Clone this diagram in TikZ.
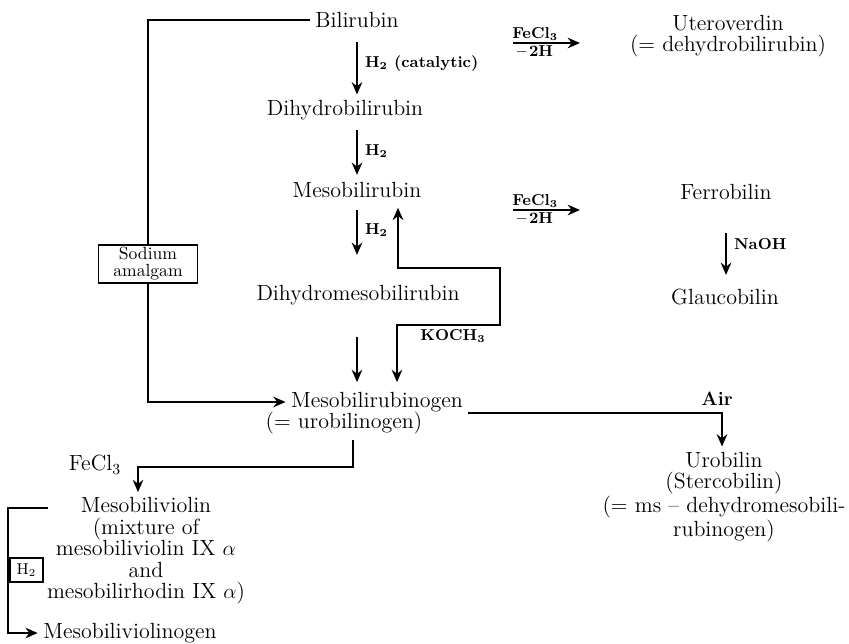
\documentclass[tikz,border=0pt]{standalone}
\usepackage{xcolor}
\usetikzlibrary{arrows.meta}

\begin{document}
\begin{tikzpicture}[x=0.02cm,y=-0.02cm,
  cmpd/.style={font=\fontsize{12.5}{12.2}\selectfont, align=center, inner sep=3pt},
  lbl/.style={font=\fontsize{9}{10}\selectfont\bfseries, inner sep=1pt},
  bar/.style={line width=1.2pt},
  rxn/.style={bar, -{Stealth[length=7pt,width=6pt]}},
  box/.style={draw, line width=1pt, align=center, inner sep=1pt}]

\useasboundingbox (0,0) rectangle (849,644);

% main column
\node[cmpd] (bili) at (357,20) {Bilirubin};
\node[cmpd] (dhb) at (345,110) {Dihydrobilirubin};
\node[cmpd] (mbr) at (357,190) {Mesobilirubin};
\node[cmpd] (dhmb) at (358,295) {Dihydromesobilirubin};
\node[cmpd] (mbg) at (377,402) {Mesobilirubinogen};
\node[cmpd] (mbgalt) at (344,423) {(= urobilinogen)};

% right column
\node[cmpd] (uter) at (728,36) {Uteroverdin\\(= dehydrobilirubin)};
\node[cmpd] (ferro) at (726,192) {Ferrobilin};
\node[cmpd] (glauco) at (725,297) {Glaucobilin};
\node[cmpd] (urob) at (724,497) {Urobilin\\(Stercobilin)\\(= ms -- dehydromesobili-\\rubinogen)};

% lower left
\node[cmpd] (mbv) at (146,551) {Mesobiliviolin\\(mixture of\\mesobiliviolin IX $\alpha$\\and\\mesobilirhodin IX $\alpha$)};
\node[cmpd] (mbvg) at (130,633) {Mesobiliviolinogen};

% reagent boxes
\node[box, minimum width=1.98cm, minimum height=0.76cm,
  font=\fontsize{10}{9.8}\selectfont] (soda) at (148,264) {Sodium\\amalgam};
\node[box, minimum width=0.66cm, minimum height=0.48cm,
  font=\fontsize{9}{10}\selectfont] (hbox) at (26.5,570) {H\textsubscript{2}};

% hydrogenation steps
\draw[rxn, shorten <=5pt] (bili.south) -- (dhb.north -| bili.south)
  node[lbl, midway, right=3pt] {H\textsubscript{2} (catalytic)};
\draw[rxn, shorten <=2.5pt, shorten >=1pt] (dhb.south -| bili.south) -- (mbr.north -| bili.south)
  node[lbl, midway, right=3pt] {H\textsubscript{2}};
\draw[rxn, shorten <=3.7pt, shorten >=14pt] (mbr.south -| bili.south) -- (dhmb.north -| bili.south)
  node[lbl, pos=0.35, right=3pt] {H\textsubscript{2}};
\draw[rxn, shorten <=15pt, shorten >=2.5pt] (dhmb.south -| bili.south) -- (mbg.north -| bili.south);

% KOCH3 loop
\coordinate (k1) at (398,268);
\coordinate (k2) at (500,268);
\coordinate (k3) at (500,325);
\coordinate (k4) at (397,325);
\draw[bar, {Stealth[length=7pt,width=6pt]}-{Stealth[length=7pt,width=6pt]}, shorten <=2.5pt, shorten >=2.5pt]
  (mbr.south -| k1) -- (k1) -- (k2) -- (k3) -- (k4) -- (mbg.north -| k4);
\node[lbl] (koch) at (453,336) {KOCH\textsubscript{3}};

% sodium amalgam
\draw[bar] (bili.west) -| (soda.north);
\draw[rxn] (soda.south) |- (mbg.west);

% FeCl3 oxidations
\coordinate (f1a) at (513,43);
\coordinate (f1b) at (580,43);
\draw[rxn] (f1a) -- node[lbl, pos=0.33, above] {FeCl\textsubscript{3}}
  node[lbl, pos=0.33, below] {--\,2H} (f1b);
\coordinate (f2a) at (513,210);
\coordinate (f2b) at (580,210);
\draw[rxn] (f2a) -- node[lbl, pos=0.33, above] {FeCl\textsubscript{3}}
  node[lbl, pos=0.33, below] {--\,2H} (f2b);

\draw[rxn, shorten <=15.6pt, shorten >=4.8pt] (ferro.south) -- (glauco.north -| ferro.south)
  node[lbl, midway, right=3pt] {NaOH};

% air
\coordinate (a1) at (722,413);
\draw[rxn] (mbg.east |- a1) -- (a1) -- (urob.north -| a1);
\node[lbl, font=\fontsize{11}{12}\selectfont\bfseries] (air) at (717,399) {Air};

% FeCl3 to mesobiliviolin
\coordinate (b1) at (353,467);
\coordinate (b2) at (138,467);
\draw[rxn] (mbgalt.south -| b1) -- (b1) -- (b2) -- (b2 |- mbv.north);
\node[cmpd] (fecl) at (95,465) {FeCl\textsubscript{3}};

% H2 reduction
\coordinate (c1) at (48,508);
\coordinate (c2) at (8,508);
\draw[rxn] (c1) -- (c2) -- (c2 |- mbvg.west) -- (mbvg.west);

\end{tikzpicture}
\end{document}
